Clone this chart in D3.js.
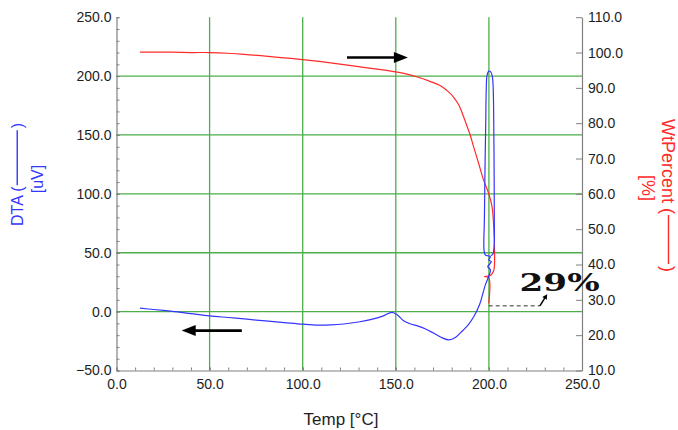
<!DOCTYPE html>
<html><head><meta charset="utf-8">
<script src="https://cdn.jsdelivr.net/npm/d3@7"></script>
<style>
body{margin:0;background:#fff}
svg{display:block}
text{font-family:"Liberation Sans",Arial,sans-serif}
</style>
</head><body>
<svg id="c" width="678" height="430"></svg>
<script>
// ---- data ----
const tempTicks = [0, 50, 100, 150, 200, 250];
const dtaTicks = [-50, 0, 50, 100, 150, 200, 250];
const wtTicks = [10, 20, 30, 40, 50, 60, 70, 80, 90, 100, 110];
const gridTemp = [50, 100, 150, 200];
const gridDta = [0, 50, 100, 150, 200];

const dtaTemp = [12.6, 20, 30, 40, 50, 60, 70, 80, 90, 100, 108, 115, 122, 130, 137, 143, 148, 151, 154, 158, 162, 166, 170, 175, 178.5, 182, 186, 189, 192, 195, 198.1, 199.9, 200.8, 199.4, 201.3, 199.9, 200.8, 198.1, 197.4, 197.6, 197.9, 198.3, 198.6, 199.0, 199.9, 200.9, 201.8, 202.3, 202.6, 202.8, 202.9, 202.8, 202.0, 201.0];
const dtaValue = [2.9, 1.8, 0.2, -1.7, -3.6, -5.0, -6.4, -7.9, -9.3, -10.7, -11.5, -11.3, -10.5, -8.8, -6.6, -3.8, -0.6, -3.0, -7.5, -10.5, -12.3, -14.8, -18.0, -22.3, -24.0, -22.0, -16.0, -11.0, -4.0, 6.0, 22.7, 30.0, 35.4, 38.2, 42.4, 43.9, 46.7, 48.1, 52, 80, 120, 160, 190, 200.5, 204.2, 203.8, 200, 190, 160, 120, 80, 55, 48.5, 47.5];

const wtTemp = [12.6, 20, 30, 40, 50, 60, 70, 80, 90, 100, 110, 120, 130, 140, 150, 156, 162, 168, 174, 178, 181, 184, 186.4, 188.5, 190, 191.8, 194.5, 197.2, 199.9, 201.7, 202.6, 203.0, 202.6, 200.8, 197.6, 199.9, 199.9];
const wtValue = [100.1, 100.1, 100.1, 100.0, 100.0, 99.8, 99.4, 99.0, 98.5, 98.0, 97.4, 96.7, 96.0, 95.3, 94.5, 93.9, 93.0, 91.9, 90.6, 89.0, 87.4, 85.0, 81.8, 78.8, 76.6, 73.3, 68.6, 63.8, 60.1, 56.3, 50.6, 44.0, 38.3, 36.9, 36.6, 36.3, 29.0];

// annotations (data coordinates)
const lossLabel = "29%";
const lossLabelAt = [216.5, 32.6];            // temp, wt%
const lossDash = [[199.9, 28.3], [227.4, 28.3]];
const lossArrow = [[227.4, 28.3], [231.3, 31.6]];
const heatArrow = [[123.8, 98.6], [156.5, 98.6]];   // on wt% axis
const coolArrow = [[67.3, -16.1], [35.0, -16.1]];   // on DTA axis

// ---- chart ----
const svg = d3.select("#c");
const x = d3.scaleLinear([0, 250], [116.5, 582]);
const yL = d3.scaleLinear([-50, 250], [370.5, 17.2]);
const yR = d3.scaleLinear([10, 110], [370.5, 17.2]);

const gridColor = "#4caf4c", axisColor = "#808080", tickText = "#1e1e1e";
const blue = "#3535ff", red = "#ff2b2b";

// grid
svg.append("g").selectAll("line").data(gridTemp).join("line")
  .attr("x1", d => x(d)).attr("x2", d => x(d))
  .attr("y1", yL(250)).attr("y2", yL(-50))
  .attr("stroke", gridColor).attr("stroke-width", 1.3);
svg.append("g").selectAll("line").data(gridDta).join("line")
  .attr("x1", x(0)).attr("x2", x(250))
  .attr("y1", d => yL(d)).attr("y2", d => yL(d))
  .attr("stroke", gridColor).attr("stroke-width", 1.3);

function styleAxis(g) {
  g.selectAll(".domain").attr("stroke", axisColor).attr("stroke-width", 1.2);
  g.selectAll(".tick line").attr("stroke", axisColor);
  g.selectAll("text").attr("fill", tickText).style("font-size", "14px")
    .style("font-family", '"Liberation Sans", Arial, sans-serif');
}
const fmt = d3.format(".1f");

// minor ticks
svg.append("g").attr("transform", `translate(${x(0)},0)`)
  .call(d3.axisLeft(yL).tickValues(d3.range(-50, 251, 10)).tickSize(-3).tickFormat(""))
  .call(g => { g.select(".domain").remove(); g.selectAll(".tick line").attr("stroke", axisColor); });
svg.append("g").attr("transform", `translate(0,${yL(-50)})`)
  .call(d3.axisBottom(x).tickValues(d3.range(0, 251, 10)).tickSize(-3).tickFormat(""))
  .call(g => { g.select(".domain").remove(); g.selectAll(".tick line").attr("stroke", axisColor); });

// main axes
svg.append("g").attr("transform", `translate(${x(0)},0)`)
  .call(d3.axisLeft(yL).tickValues(dtaTicks).tickSize(-3).tickPadding(5).tickSizeOuter(0).tickFormat(fmt))
  .call(styleAxis);
svg.append("g").attr("transform", `translate(0,${yL(-50)})`)
  .call(d3.axisBottom(x).tickValues(tempTicks).tickSize(-3).tickPadding(9).tickSizeOuter(0).tickFormat(fmt))
  .call(styleAxis);
svg.append("g").attr("transform", `translate(${x(250)},0)`)
  .call(d3.axisRight(yR).tickValues(wtTicks).tickSize(-6).tickPadding(6).tickSizeOuter(0).tickFormat(fmt))
  .call(styleAxis);

// curves
const dtaData = dtaTemp.map((t, i) => [t, dtaValue[i]]);
const wtData = wtTemp.map((t, i) => [t, wtValue[i]]);
svg.append("path").datum(wtData)
  .attr("d", d3.line().x(d => x(d[0])).y(d => yR(d[1])).curve(d3.curveCatmullRom.alpha(0.5)))
  .attr("fill", "none").attr("stroke", red).attr("stroke-width", 1.2);
svg.append("path").datum(dtaData)
  .attr("d", d3.line().x(d => x(d[0])).y(d => yL(d[1])).curve(d3.curveCatmullRom.alpha(0.5)))
  .attr("fill", "none").attr("stroke", blue).attr("stroke-width", 1.2);

// arrows
function arrow(p0, p1, width, L, hw) {
  const dx = p1[0] - p0[0], dy = p1[1] - p0[1];
  const len = Math.hypot(dx, dy), ux = dx / len, uy = dy / len;
  const bx = p1[0] - ux * L, by = p1[1] - uy * L;
  svg.append("line").attr("x1", p0[0]).attr("y1", p0[1])
    .attr("x2", bx + ux).attr("y2", by + uy)
    .attr("stroke", "#000").attr("stroke-width", width);
  svg.append("path")
    .attr("d", `M${p1[0]},${p1[1]}L${bx - uy * hw},${by + ux * hw}L${bx + uy * hw},${by - ux * hw}Z`)
    .attr("fill", "#000");
}
arrow([x(heatArrow[0][0]), yR(heatArrow[0][1])], [x(heatArrow[1][0]), yR(heatArrow[1][1])], 2.6, 14, 5.5);
arrow([x(coolArrow[0][0]), yL(coolArrow[0][1])], [x(coolArrow[1][0]), yL(coolArrow[1][1])], 2.6, 14, 5.5);

svg.append("line")
  .attr("x1", x(lossDash[0][0])).attr("y1", yR(lossDash[0][1]))
  .attr("x2", x(lossDash[1][0])).attr("y2", yR(lossDash[1][1]))
  .attr("stroke", "#333").attr("stroke-width", 1).attr("stroke-dasharray", "4,3");
arrow([x(lossArrow[0][0]), yR(lossArrow[0][1])], [x(lossArrow[1][0]), yR(lossArrow[1][1])], 1.5, 5, 2.6);

svg.append("text").attr("x", x(lossLabelAt[0])).attr("y", yR(lossLabelAt[1]))
  .text(lossLabel)
  .style("font-family", '"DejaVu Serif", "Liberation Serif", serif')
  .style("font-weight", "bold").style("font-size", "25px")
  .attr("textLength", 80).attr("lengthAdjust", "spacingAndGlyphs")
  .attr("fill", "#111");

// axis titles
svg.append("text").attr("x", 341).attr("y", 425).attr("text-anchor", "middle")
  .style("font-size", "17px").attr("fill", "#1e1e1e").text("Temp [°C]");

function dashTitle(cx, cy, rot, label, unit, color, size, unitOffset, totalLen) {
  const g = svg.append("g").attr("transform", `translate(${cx},${cy}) rotate(${rot})`);
  const t1 = g.append("text").attr("y", 0).style("font-size", size + "px").attr("fill", color).text(label + " (");
  const w1 = t1.node().getComputedTextLength();
  const t3 = g.append("text").style("font-size", size + "px").attr("fill", color).text(")");
  const w3 = t3.node().getComputedTextLength();
  const lineLen = totalLen - w1 - w3 - 4;
  const start = -totalLen / 2;
  t1.attr("x", start);
  g.append("line").attr("x1", start + w1 + 1).attr("x2", start + w1 + 1 + lineLen)
    .attr("y1", -size * 0.36).attr("y2", -size * 0.36)
    .attr("stroke", color).attr("stroke-width", 1.4);
  t3.attr("x", start + w1 + lineLen + 3);
  g.append("text").attr("x", unitOffset[0]).attr("y", unitOffset[1]).attr("text-anchor", "middle")
    .style("font-size", size + "px").attr("fill", color).text(unit);
}
dashTitle(23, 174, -90, "DTA", "[uV]", blue, 16, [-5, 20], 104);
dashTitle(662, 196, 90, "WtPercent", "[%]", red, 18, [-8, 20], 154);
</script>
</body></html>
